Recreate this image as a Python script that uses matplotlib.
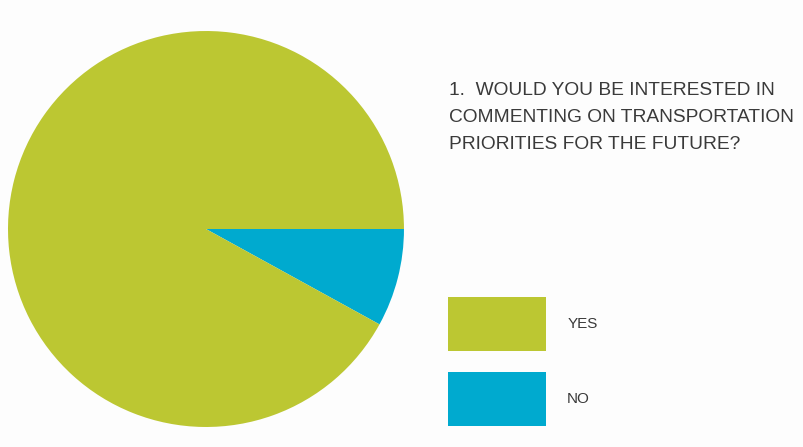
import matplotlib.pyplot as plt
from matplotlib.patches import Patch

# survey answers (percent)
labels = ['NO', 'YES']
values = [8, 92]
colors = ['#00AACF', '#BCC732']
legend_order = ['YES', 'NO']
question = '1.  WOULD YOU BE INTERESTED IN\nCOMMENTING ON TRANSPORTATION\nPRIORITIES FOR THE FUTURE?'

plt.rcParams['font.family'] = ['Liberation Sans', 'DejaVu Sans']

fig = plt.figure(figsize=(8.04, 4.47), dpi=100)
fig.patch.set_facecolor('#FDFDFD')

ax = fig.add_axes([0.00995, 0.0447, 0.4925, 0.886])
ax.pie(values, colors=colors, startangle=0, counterclock=False,
       wedgeprops={'linewidth': 0})
ax.set_xlim(-1, 1)
ax.set_ylim(-1, 1)
ax.set_aspect('equal')

fig.text(449 / 804, 1 - 82 / 447, question, ha='left', va='top',
         fontsize=13.8, color='#3A3A3A', linespacing=1.76)

handles = [Patch(facecolor=colors[labels.index(l)], edgecolor='none') for l in legend_order]
fig.legend(handles, legend_order, loc='upper left',
           bbox_to_anchor=(448 / 804, 1 - 297 / 447), frameon=False,
           fontsize=11, handlelength=6.4, handleheight=5.05,
           labelspacing=1.4, handletextpad=1.4, borderpad=0,
           borderaxespad=0, labelcolor='#3A3A3A')

fig.savefig('out.png', dpi=100, facecolor=fig.get_facecolor())
